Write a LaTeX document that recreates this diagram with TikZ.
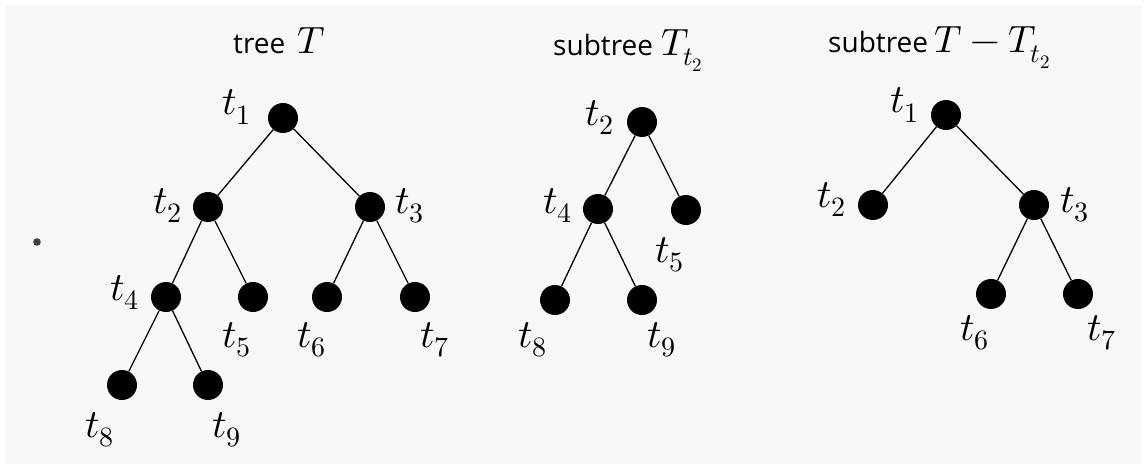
\documentclass[tikz,border=0pt]{standalone}
\usepackage{fontspec}
\usepackage{unicode-math}
\setmathfont{latinmodern-math.otf}
\setsansfont{Open Sans}
\definecolor{bgcol}{RGB}{248,248,248}
\newcommand{\sfword}[1]{{\sffamily\fontsize{28}{34}\selectfont #1}}
\begin{document}
\begin{tikzpicture}[x=1pt,y=-1pt,
  vert/.style={circle,fill=black,minimum size=30pt,inner sep=0pt},
  lbl/.style={anchor=base west,inner sep=0pt,font=\fontsize{40}{48}\selectfont},
  ttl/.style={anchor=base west,inner sep=0pt,font=\fontsize{38}{46}\selectfont},
  edge/.style={line width=1.3pt,draw=black}]
\useasboundingbox (0,0) rectangle (1145,468);
\fill[bgcol] (5,5) rectangle (1141,464);
\fill[black!75] (37,242) circle (3.8pt);
% titles
\node[ttl] (ttl1) at (233,54) {\sfword{tree}\hspace{12pt}$T$};
\node[ttl] (ttl2) at (553,56) {\sfword{subtree}\hspace{8pt}$T_{t_2}$};
\node[ttl] (ttl3) at (828,53) {\sfword{subtree}\hspace{6pt}$T - T_{t_2}$};
% tree T
\node[vert] (a1) at (283,118) {};
\node[vert] (a2) at (208,207) {};
\node[vert] (a3) at (370,207) {};
\node[vert] (a4) at (166,297) {};
\node[vert] (a5) at (253,297) {};
\node[vert] (a6) at (327,297) {};
\node[vert] (a7) at (415,297) {};
\node[vert] (a8) at (122,385) {};
\node[vert] (a9) at (208,385) {};
\draw[edge] (a1) -- (a2); \draw[edge] (a1) -- (a3);
\draw[edge] (a2) -- (a4); \draw[edge] (a2) -- (a5);
\draw[edge] (a3) -- (a6); \draw[edge] (a3) -- (a7);
\draw[edge] (a4) -- (a8); \draw[edge] (a4) -- (a9);
\node[lbl] (la1) at (222,115) {$t_1$};
\node[lbl] (la2) at (153,213) {$t_2$};
\node[lbl] (la3) at (395,213) {$t_3$};
\node[lbl] (la4) at (110,300) {$t_4$};
\node[lbl] (la5) at (222,347) {$t_5$};
\node[lbl] (la6) at (297,347) {$t_6$};
\node[lbl] (la7) at (420,347) {$t_7$};
\node[lbl] (la8) at (85,437) {$t_8$};
\node[lbl] (la9) at (212,437) {$t_9$};
% subtree T_t2
\node[vert] (b2) at (642,122) {};
\node[vert] (b4) at (598,209) {};
\node[vert] (b5) at (686,210) {};
\node[vert] (b8) at (555,300) {};
\node[vert] (b9) at (642,300) {};
\draw[edge] (b2) -- (b4); \draw[edge] (b2) -- (b5);
\draw[edge] (b4) -- (b8); \draw[edge] (b4) -- (b9);
\node[lbl] (lb2) at (585,125) {$t_2$};
\node[lbl] (lb4) at (543,213) {$t_4$};
\node[lbl] (lb5) at (655,262) {$t_5$};
\node[lbl] (lb8) at (518,347) {$t_8$};
\node[lbl] (lb9) at (647,347) {$t_9$};
% subtree T - T_t2
\node[vert] (c1) at (946,115) {};
\node[vert] (c2) at (873,205) {};
\node[vert] (c3) at (1034,205) {};
\node[vert] (c6) at (991,294) {};
\node[vert] (c7) at (1078,294) {};
\draw[edge] (c1) -- (c2); \draw[edge] (c1) -- (c3);
\draw[edge] (c3) -- (c6); \draw[edge] (c3) -- (c7);
\node[lbl] (lc1) at (890,113) {$t_1$};
\node[lbl] (lc2) at (817,207) {$t_2$};
\node[lbl] (lc3) at (1060,212) {$t_3$};
\node[lbl] (lc6) at (960,340) {$t_6$};
\node[lbl] (lc7) at (1087,340) {$t_7$};
\end{tikzpicture}
\end{document}
